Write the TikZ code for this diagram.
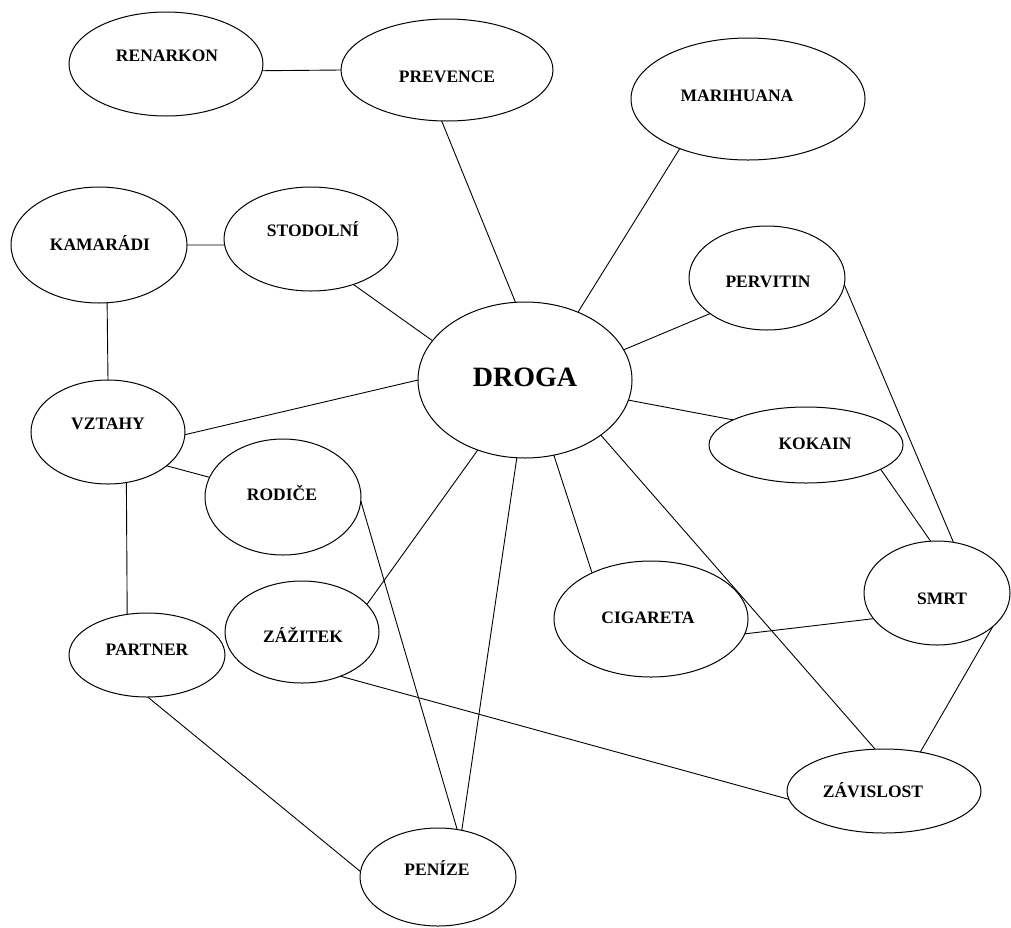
\documentclass[tikz,border=0pt]{standalone}
\usepackage{fontspec}
\setmainfont{Liberation Serif}
\usetikzlibrary{shapes.geometric}
\tikzset{
  bubble/.style={draw, ellipse, line width=1pt, inner sep=0pt, outer sep=0pt},
  lab/.style={font=\fontsize{17.5}{17.5}\selectfont\bfseries, text height=11.5pt, text depth=0pt, inner sep=0pt},
  biglab/.style={font=\fontsize{28}{28}\selectfont\bfseries, text height=18.5pt, text depth=0pt, inner sep=0pt},
  conn/.style={line width=0.9pt}
}
\newcommand{\bub}[8]{% name, x, y, rx, ry, text, dx, dy
  \node[bubble, minimum width=#4*2pt, minimum height=#5*2pt] (#1) at (#2,#3) {};
  \node[lab] (#1t) at ([xshift=#7pt, yshift=#8pt]#1.center) {#6};
}
\begin{document}
\begin{tikzpicture}[x=1pt, y=-1pt]
\useasboundingbox (0,0) rectangle (1011,927);
\bub{ren}{166}{64}{97}{52}{RENARKON}{1}{8}
\bub{prev}{447}{70}{106}{51}{PREVENCE}{0}{-7}
\bub{mari}{748}{99}{117}{61}{MARIHUANA}{-11}{3}
\bub{kam}{99}{245}{88}{58}{KAMARÁDI}{1}{0}
\bub{stod}{311}{239}{87}{52}{STODOLNÍ}{2}{8}
\bub{perv}{767}{278}{78}{52}{PERVITIN}{1}{-4}
\node[bubble, minimum width=214pt, minimum height=156pt] (drog) at (525,380) {};
\node[biglab] (drogt) at ([yshift=3pt]drog.center) {DROGA};
\bub{vzt}{108}{432}{77}{52}{VZTAHY}{0}{8}
\bub{rod}{283}{497}{78}{58}{RODIČE}{-1}{2}
\bub{kok}{806}{445}{97}{38}{KOKAIN}{9}{1}
\bub{smrt}{937}{593}{73}{52}{SMRT}{5}{-6}
\bub{cig}{651}{619}{97}{58}{CIGARETA}{-3}{1}
\bub{zaz}{302}{632}{77}{51}{ZÁŽITEK}{1}{-5}
\bub{part}{147}{655}{78}{42}{PARTNER}{0}{5}
\bub{pen}{438}{877}{78}{49}{PENÍZE}{-1}{7}
\bub{zav}{884}{791}{97}{42}{ZÁVISLOST}{-11}{-1}

\draw[conn] (ren.356.5) -- (prev.180);
\draw[conn] (prev.264.5) -- (drog.97.4);
\draw[conn] (mari.216.9) -- (drog.52.7);
\draw[conn] (kam.0) -- (stod.184);
\draw[conn] (stod.313) -- (drog.157.8);
\draw[conn] (kam.278.7) -- (vzt.90);
\draw[conn] (vzt.358.5) -- (drog.180);
\draw[conn] (vzt.330.5) -- (rod.165.6);
\draw[conn] (vzt.290) -- (part.116);
\draw[conn] (rod.357.8) -- (pen.68.8);
\draw[conn] (drog.236.3) -- (zaz.23.7);
\draw[conn] (drog.264) -- (pen.63.9);
\draw[conn] (drog.291) -- (cig.142);
\draw[conn] (drog.324) -- (zav.102);
\draw[conn] (drog.17.6) -- (perv.212.5);
\draw[conn] (drog.349.4) -- (kok.161.8);
\draw[conn] (perv.355) -- (smrt.72.6);
\draw[conn] (kok.342.9) -- (smrt.97.8);
\draw[conn] (cig.351.9) -- (smrt.202.9);
\draw[conn] (smrt.329.7) -- (zav.47.1);
\draw[conn] (zaz.311) -- (zav.185.3);
\draw[conn] (part.271) -- (pen.176.3);
\end{tikzpicture}
\end{document}
